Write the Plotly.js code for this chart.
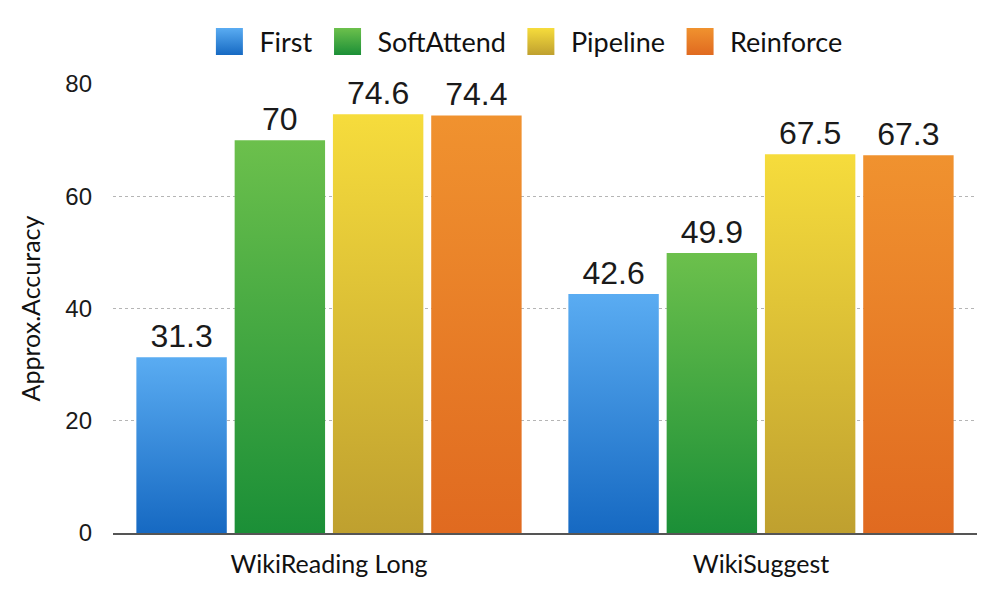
<!DOCTYPE html>
<html>
<head>
<meta charset="utf-8">
<script src="https://cdn.plot.ly/plotly-3.0.1.min.js"></script>
<style>
html,body{margin:0;padding:0;background:#fff;}
#chart{width:986px;height:590px;}
</style>
</head>
<body>
<div id="chart"></div>
<script>
const categories = ["WikiReading Long", "WikiSuggest"];
const seriesNames = ["First", "SoftAttend", "Pipeline", "Reinforce"];
const firstVals = [31.3, 42.6];
const softAttendVals = [70, 49.9];
const pipelineVals = [74.6, 67.5];
const reinforceVals = [74.4, 67.3];
const yTicks = [0, 20, 40, 60, 80];

const seriesValues = [firstVals, softAttendVals, pipelineVals, reinforceVals];
const colors = ["#3a8bdc", "#3ea541", "#e2c535", "#ea7f28"];
const gradTop = ["#5aacf2", "#6cc04c", "#f6dc3c", "#f0922f"];
const gradBot = ["#1669c2", "#1b8f37", "#bfa02f", "#e06a20"];

const traces = seriesNames.map((name, i) => ({
  type: "bar",
  name: name,
  x: categories,
  y: seriesValues[i],
  text: seriesValues[i].map(v => String(v)),
  textposition: "outside",
  cliponaxis: false,
  textfont: {family: "Liberation Sans, Arial, sans-serif", size: 32, color: "#1a1a1a"},
  marker: {color: colors[i], line: {width: 0}},
  hoverinfo: "x+y+name"
}));

const LEGEND_ITEMWIDTH = 50;

const layout = {
  width: 986,
  height: 590,
  margin: {l: 113, r: 9, t: 84, b: 57, autoexpand: false},
  paper_bgcolor: "#ffffff",
  plot_bgcolor: "#ffffff",
  barmode: "group",
  bargap: 0.09,
  bargroupgap: 0.08,
  showlegend: true,
  legend: {
    orientation: "h",
    x: 0.475, xanchor: "center",
    y: 1.0935, yanchor: "middle",
    font: {family: "Lato, 'Open Sans', sans-serif", size: 27, color: "#111"},
    itemwidth: LEGEND_ITEMWIDTH,
    tracegroupgap: 0,
    bgcolor: "rgba(0,0,0,0)"
  },
  xaxis: {
    type: "category",
    showgrid: false,
    showline: true,
    linecolor: "#555",
    linewidth: 2,
    ticks: "",
    tickfont: {family: "Lato, 'Open Sans', sans-serif", size: 25, color: "#111"},
    ticklabelstandoff: 8
  },
  yaxis: {
    range: [0, 80],
    tickvals: yTicks,
    ticktext: yTicks.map(String),
    showgrid: true,
    gridcolor: "#b5b5b5",
    griddash: "dot",
    gridwidth: 1,
    zeroline: false,
    showline: false,
    ticks: "",
    ticklabelstandoff: 20,
    tickfont: {family: "Liberation Sans, Arial, sans-serif", size: 24, color: "#1a1a1a"},
    title: {text: "Approx.Accuracy", font: {family: "Lato, 'Open Sans', sans-serif", size: 25, color: "#111"}, standoff: 17}
  }
};

Plotly.newPlot("chart", traces, layout, {displayModeBar: false, staticPlot: true}).then(gd => {
  const svgs = gd.querySelectorAll("svg.main-svg");
  const svg = svgs[0];
  const ns = "http://www.w3.org/2000/svg";
  let defs = svg.querySelector("defs");
  if (!defs) { defs = document.createElementNS(ns, "defs"); svg.insertBefore(defs, svg.firstChild); }
  seriesNames.forEach((n, i) => {
    const lg = document.createElementNS(ns, "linearGradient");
    lg.setAttribute("id", "grad" + i);
    lg.setAttribute("x1", "0"); lg.setAttribute("y1", "0");
    lg.setAttribute("x2", "0"); lg.setAttribute("y2", "1");
    const s1 = document.createElementNS(ns, "stop");
    s1.setAttribute("offset", "0"); s1.setAttribute("stop-color", gradTop[i]);
    const s2 = document.createElementNS(ns, "stop");
    s2.setAttribute("offset", "1"); s2.setAttribute("stop-color", gradBot[i]);
    lg.appendChild(s1); lg.appendChild(s2);
    defs.appendChild(lg);
  });
  gd.querySelectorAll(".barlayer .trace.bars").forEach((t, i) => {
    t.querySelectorAll(".point path").forEach(p => { p.style.fill = "url(#grad" + i + ")"; });
  });
  // enlarge legend swatches in place (centre stays where Plotly put it)
  gd.querySelectorAll(".legend .traces").forEach((t, i) => {
    t.querySelectorAll(".legendpoints path").forEach(p => {
      p.style.fill = "url(#grad" + i + ")";
      const tr = p.getAttribute("transform") || "";
      p.setAttribute("transform", tr + " scale(2.25)");
    });
  });
});
</script>
</body>
</html>
